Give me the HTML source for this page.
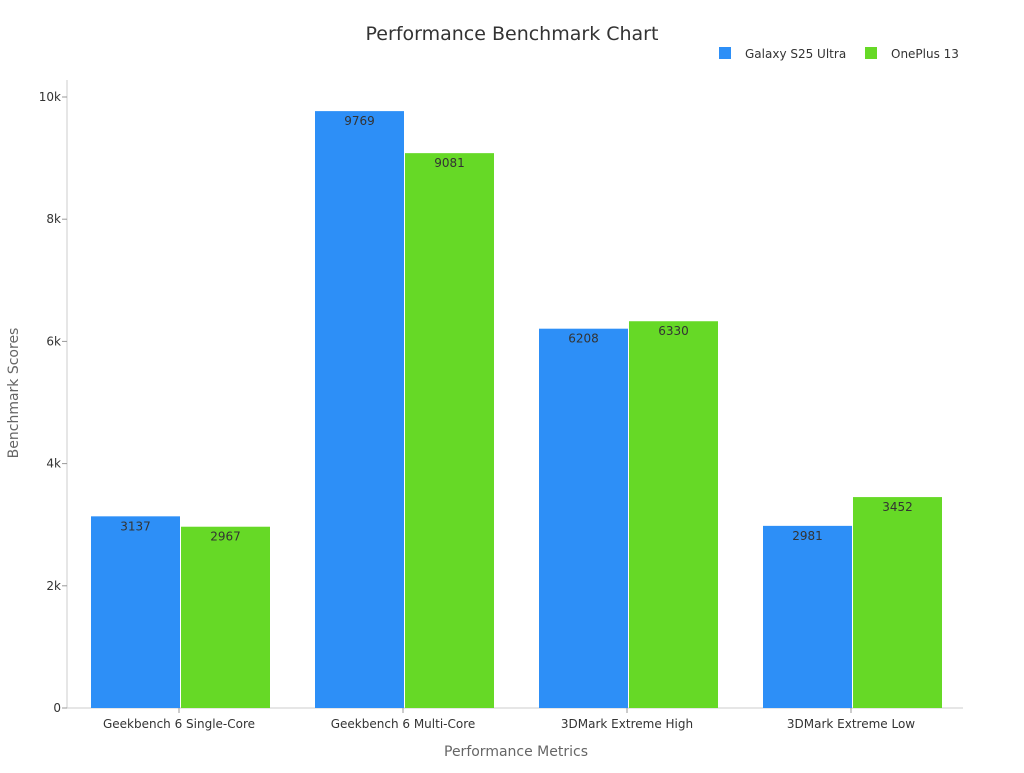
<!DOCTYPE html>
<html><head><meta charset="utf-8"><style>
body{margin:0;background:#fff;font-family:"Liberation Sans","DejaVu Sans",sans-serif;}
svg text{font-family:"DejaVu Sans","Liberation Sans",sans-serif;}
</style></head><body>
<svg id="chart" width="1024" height="768" xmlns="http://www.w3.org/2000/svg">
<text x="512" y="40" text-anchor="middle" font-size="19" fill="#333">Performance Benchmark Chart</text>
<g>
<rect x="719" y="47" width="12" height="12" fill="#2d8ff7"/>
<text x="745" y="58" font-size="12" fill="#333">Galaxy S25 Ultra</text>
<rect x="865" y="47" width="12" height="12" fill="#66d926"/>
<text x="891" y="58" font-size="12" fill="#333">OnePlus 13</text>
</g>
<text transform="translate(18,393) rotate(-90)" text-anchor="middle" font-size="14" fill="#666">Benchmark Scores</text>
<text x="516" y="756" text-anchor="middle" font-size="14" fill="#666">Performance Metrics</text>
<g id="plot"></g>
</svg>
<script>
const categories=["Geekbench 6 Single-Core","Geekbench 6 Multi-Core","3DMark Extreme High","3DMark Extreme Low"];
const galaxyValues=[3137,9769,6208,2981];
const oneplusValues=[2967,9081,6330,3452];
const yTicks=[0,2000,4000,6000,8000,10000];
const yTickLabels=["0","2k","4k","6k","8k","10k"];
const NS="http://www.w3.org/2000/svg";
const x0=67,x1=963,yBase=708,yTop=97,yMax=10000;
function y(v){return yBase-(v/yMax)*(yBase-yTop);}
const band=(x1-x0)/categories.length;
function bx(i){return x0+i*band;}
const g=document.getElementById('plot');
function mk(t,a){const e=document.createElementNS(NS,t);for(const k in a)e.setAttribute(k,a[k]);g.appendChild(e);return e;}
let ax=mk('line',{x1:x0,y1:80,x2:x0,y2:yBase,stroke:'#ccc'});


let axx=mk('line',{x1:x0,y1:yBase,x2:x1,y2:yBase,stroke:'#ccc'});


yTicks.forEach((v,i)=>{
 const tk=mk('line',{x1:x0-5,y1:y(v),x2:x0,y2:y(v),stroke:'#999'});
 
 
 const t=mk('text',{x:x0-6,y:y(v)+4,'text-anchor':'end','font-size':12,fill:'#333'});
 t.textContent=yTickLabels[i];
 
 
});
const bw=89,pad=24;
categories.forEach((c,i)=>{
 const series=[[galaxyValues[i],'#2d8ff7',0],[oneplusValues[i],'#66d926',1]];
 series.forEach(([v,col,k])=>{
  const x=bx(i)+pad+k*(bw+1);
  const r=mk('rect',{x:x,y:y(v),width:bw,height:yBase-y(v),fill:col});
  
  
  const t=mk('text',{x:x+bw/2,y:y(v)+14,'text-anchor':'middle','font-size':12,fill:'#333'});
  t.textContent=v;
  
  
 });
 const tk=mk('line',{x1:bx(i)+band/2,y1:yBase,x2:bx(i)+band/2,y2:yBase+5,stroke:'#999'});
 
 
 const t=mk('text',{x:bx(i)+band/2,y:yBase+20,'text-anchor':'middle','font-size':12,fill:'#333'});
 t.textContent=c;
 
 
});
</script>
</body></html>
